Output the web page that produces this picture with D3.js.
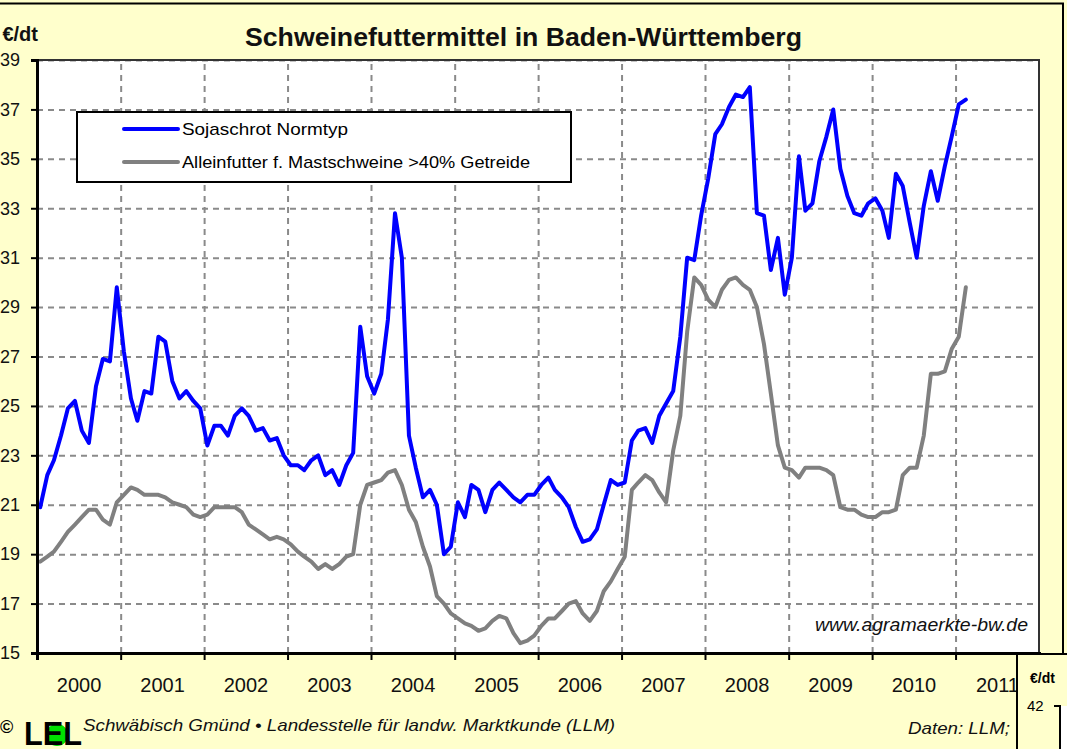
<!DOCTYPE html>
<html lang="de">
<head>
<meta charset="UTF-8">
<title>Schweinefuttermittel in Baden-Württemberg</title>
<style>
  html, body { margin: 0; padding: 0; background: #ffffcc; }
  svg { display: block; font-family: Arial, "Liberation Sans", sans-serif; }
</style>
</head>
<body>
<div id="chart"></div>
<script src="https://cdn.jsdelivr.net/npm/d3@7"></script>
<script>
// monthly values, Jan 2000 .. Feb 2011 (EUR/dt)
var soja = [
  20.9, 22.2, 22.8, 23.8, 24.9, 25.2, 24.0, 23.5, 25.8, 26.9, 26.8, 29.8,
  27.2, 25.3, 24.4, 25.6, 25.5, 27.8, 27.6, 26.0, 25.3, 25.6, 25.2, 24.9,
  23.4, 24.2, 24.2, 23.8, 24.6, 24.9, 24.6, 24.0, 24.1, 23.6, 23.7, 23.0,
  22.6, 22.6, 22.4, 22.8, 23.0, 22.2, 22.4, 21.8, 22.6, 23.1, 28.2, 26.2,
  25.5, 26.3, 28.5, 32.8, 31.0, 23.8, 22.5, 21.3, 21.6, 21.0, 19.0, 19.3,
  21.1, 20.5, 21.8, 21.6, 20.7, 21.6, 21.9, 21.6, 21.3, 21.1, 21.4, 21.4,
  21.8, 22.1, 21.6, 21.3, 20.9, 20.1, 19.5, 19.6, 20.0, 21.0, 22.0, 21.8,
  21.9, 23.6, 24.0, 24.1, 23.5, 24.6, 25.1, 25.6, 27.8, 31.0, 30.9, 32.7,
  34.2, 36.0, 36.4, 37.1, 37.6, 37.5, 37.9, 32.8, 32.7, 30.5, 31.8, 29.5,
  31.0, 35.1, 32.9, 33.2, 34.9, 35.9, 37.0, 34.6, 33.5, 32.8, 32.7, 33.2,
  33.4, 32.9, 31.8, 34.4, 33.9, 32.4, 31.0, 33.1, 34.5, 33.3, 34.7, 35.9,
  37.2, 37.4
];
var allein = [
  18.7, 18.9, 19.1, 19.5, 19.9, 20.2, 20.5, 20.8, 20.8, 20.4, 20.2, 21.1,
  21.4, 21.7, 21.6, 21.4, 21.4, 21.4, 21.3, 21.1, 21.0, 20.9, 20.6, 20.5,
  20.6, 20.9, 20.9, 20.9, 20.9, 20.7, 20.2, 20.0, 19.8, 19.6, 19.7, 19.6,
  19.4, 19.1, 18.9, 18.7, 18.4, 18.6, 18.4, 18.6, 18.9, 19.0, 21.0, 21.8,
  21.9, 22.0, 22.3, 22.4, 21.8, 20.8, 20.3, 19.3, 18.5, 17.3, 17.0, 16.6,
  16.4, 16.2, 16.1, 15.9, 16.0, 16.3, 16.5, 16.4, 15.8, 15.4, 15.5, 15.7,
  16.1, 16.4, 16.4, 16.7, 17.0, 17.1, 16.6, 16.3, 16.7, 17.5, 17.9, 18.4,
  18.9, 21.6, 21.9, 22.2, 22.0, 21.5, 21.1, 23.2, 24.6, 28.0, 30.2, 29.9,
  29.3, 29.0, 29.7, 30.1, 30.2, 29.9, 29.7, 29.0, 27.5, 25.5, 23.4, 22.5,
  22.4, 22.1, 22.5, 22.5, 22.5, 22.4, 22.2, 20.9, 20.8, 20.8, 20.6, 20.5,
  20.5, 20.7, 20.7, 20.8, 22.2, 22.5, 22.5, 23.8, 26.3, 26.3, 26.4, 27.3,
  27.8, 29.8
];
var years = [2000, 2001, 2002, 2003, 2004, 2005, 2006, 2007, 2008, 2009, 2010, 2011];
var yTicks = [15, 17, 19, 21, 23, 25, 27, 29, 31, 33, 35, 37, 39];
var seriesNames = ["Sojaschrot Normtyp", "Alleinfutter f. Mastschweine >40% Getreide"];
var seriesColors = ["#0000ff", "#808080"];

var W = 1067, H = 749;
var plot = { left: 37, top: 60, right: 1039, bottom: 653 };

var svg = d3.select("#chart").append("svg")
    .attr("width", W)
    .attr("height", H);

// background + outer frame
svg.append("rect").attr("width", W).attr("height", H).attr("fill", "#ffffcc");
svg.append("path")
    .attr("d", "M0,3.5 H1063 V654")
    .attr("fill", "none").attr("stroke", "#000").attr("stroke-width", 2);

// scales
var x = d3.scaleTime()
    .domain([new Date(2000, 0, 1), new Date(2012, 0, 1)])
    .range([plot.left, plot.right]);
var y = d3.scaleLinear().domain([15, 39]).range([plot.bottom, plot.top]);

var monthDate = function(i) { return new Date(2000, i, 15); };

// plot area
svg.append("rect")
    .attr("x", plot.left).attr("y", plot.top)
    .attr("width", plot.right - plot.left).attr("height", plot.bottom - plot.top)
    .attr("fill", "#fff");

// grid
var yearStarts = years.slice(1).map(function(yr) { return new Date(yr, 0, 1); });
var gridX = svg.append("g")
    .attr("transform", "translate(0," + plot.bottom + ")")
    .call(d3.axisBottom(x).tickValues(yearStarts).tickSize(-(plot.bottom - plot.top)).tickFormat(""));
var gridY = svg.append("g")
    .attr("transform", "translate(" + plot.left + ",0)")
    .call(d3.axisLeft(y).tickValues(yTicks.slice(1)).tickSize(-(plot.right - plot.left)).tickFormat(""));
[gridX, gridY].forEach(function(g) {
  g.select(".domain").remove();
  g.selectAll("line").attr("stroke", "#8a8a8a").attr("stroke-width", 2).attr("stroke-dasharray", "6,5");
});

// plot border (top/right)
svg.append("path")
    .attr("d", "M" + plot.left + "," + plot.top + " H" + plot.right + " V" + plot.bottom)
    .attr("fill", "none").attr("stroke", "#333").attr("stroke-width", 2);

// lines
var line = function(vals) {
  return d3.line()
    .x(function(d, i) { return x(monthDate(i)); })
    .y(function(d) { return y(d); })(vals);
};
svg.append("path").attr("d", line(allein))
    .attr("fill", "none").attr("stroke", seriesColors[1]).attr("stroke-width", 4)
    .attr("stroke-linejoin", "round").attr("stroke-linecap", "round");
svg.append("path").attr("d", line(soja))
    .attr("fill", "none").attr("stroke", seriesColors[0]).attr("stroke-width", 4)
    .attr("stroke-linejoin", "round").attr("stroke-linecap", "round");

// axes
var yAxis = svg.append("g")
    .attr("transform", "translate(" + plot.left + ",0)")
    .call(d3.axisLeft(y).tickValues(yTicks).tickSize(6).tickPadding(11).tickFormat(d3.format("d")));
var xAxis = svg.append("g")
    .attr("transform", "translate(0," + plot.bottom + ")")
    .call(d3.axisBottom(x).tickValues(years.map(function(yr) { return new Date(yr, 0, 1); })).tickSize(7).tickFormat(""));
var xLabels = svg.append("g")
    .attr("transform", "translate(0," + plot.bottom + ")")
    .call(d3.axisBottom(x).tickValues(years.map(function(yr) { return new Date(yr, 6, 1); }))
      .tickSize(0).tickPadding(25).tickFormat(d3.timeFormat("%Y")));
xLabels.select(".domain").remove();
[yAxis, xAxis].forEach(function(g) {
  g.select(".domain").attr("stroke", "#000").attr("stroke-width", 3);
  g.selectAll("line").attr("stroke", "#000").attr("stroke-width", 2);
});
svg.selectAll(".tick text").attr("fill", "#111").style("font-size", "20px")
    .style("font-family", "Arial, 'Liberation Sans', sans-serif");
yAxis.selectAll(".tick text").style("font-size", "18px");

// legend
var lg = svg.append("g");
lg.append("rect").attr("x", 77).attr("y", 112).attr("width", 494).attr("height", 70)
    .attr("fill", "#fff").attr("stroke", "#000").attr("stroke-width", 2);
seriesNames.forEach(function(name, i) {
  var ly = 129 + i * 33;
  lg.append("line").attr("x1", 124).attr("x2", 178).attr("y1", ly).attr("y2", ly)
      .attr("stroke", seriesColors[i]).attr("stroke-width", 4).attr("stroke-linecap", "round");
  lg.append("text").attr("x", 182).attr("y", ly + 6)
      .attr("font-size", 17).attr("fill", "#000")
      .attr("textLength", i === 0 ? 166 : 348).attr("lengthAdjust", "spacingAndGlyphs")
      .text(name);
});

// titles and notes
svg.append("text").attr("x", 245).attr("y", 46)
    .attr("font-size", 25).attr("font-weight", "bold").attr("fill", "#111")
    .attr("textLength", 557).attr("lengthAdjust", "spacingAndGlyphs")
    .text("Schweinefuttermittel in Baden-Württemberg");
svg.append("text").attr("x", 38).attr("y", 41).attr("text-anchor", "end")
    .attr("font-size", 20).attr("font-weight", "bold").attr("fill", "#111")
    .text("€/dt");
svg.append("text").attr("x", 1028).attr("y", 631).attr("text-anchor", "end")
    .attr("font-size", 18).attr("font-style", "italic").attr("fill", "#111")
    .attr("textLength", 213).attr("lengthAdjust", "spacingAndGlyphs")
    .text("www.agramaerkte-bw.de");

// footer with LEL logo (green dot behind the E)
svg.append("text").attr("x", 0).attr("y", 733).attr("font-size", 18).attr("font-weight", "bold").text("©");
svg.append("circle").attr("cx", 57).attr("cy", 735).attr("r", 11).attr("fill", "#00e000");
svg.append("text").attr("x", 24).attr("y", 745)
    .attr("font-size", 34).attr("font-weight", "bold").attr("fill", "#000")
    .attr("textLength", 58).attr("lengthAdjust", "spacingAndGlyphs")
    .text("LEL");
svg.append("text").attr("x", 83).attr("y", 731)
    .attr("font-size", 17).attr("font-style", "italic").attr("fill", "#111")
    .attr("textLength", 532).attr("lengthAdjust", "spacingAndGlyphs")
    .text("Schwäbisch Gmünd • Landesstelle für landw. Marktkunde (LLM)");
svg.append("text").attr("x", 908).attr("y", 734)
    .attr("font-size", 17).attr("font-style", "italic").attr("fill", "#111")
    .attr("textLength", 102).attr("lengthAdjust", "spacingAndGlyphs")
    .text("Daten: LLM;");

// next chart peeking in at the bottom right
var nb = svg.append("g");
nb.append("rect").attr("x", 1017).attr("y", 654).attr("width", 60).attr("height", 110)
    .attr("fill", "#ffffcc").attr("stroke", "#000").attr("stroke-width", 2);
nb.append("rect").attr("x", 1061).attr("y", 706).attr("width", 10).attr("height", 50).attr("fill", "#fff");
nb.append("path").attr("d", "M1054,706 H1060 V749").attr("fill", "none").attr("stroke", "#000").attr("stroke-width", 2);
nb.append("text").attr("x", 1030).attr("y", 683).attr("font-size", 14).attr("font-weight", "bold").text("€/dt");
nb.append("text").attr("x", 1027).attr("y", 711).attr("font-size", 15).text("42");
</script>
</body>
</html>
